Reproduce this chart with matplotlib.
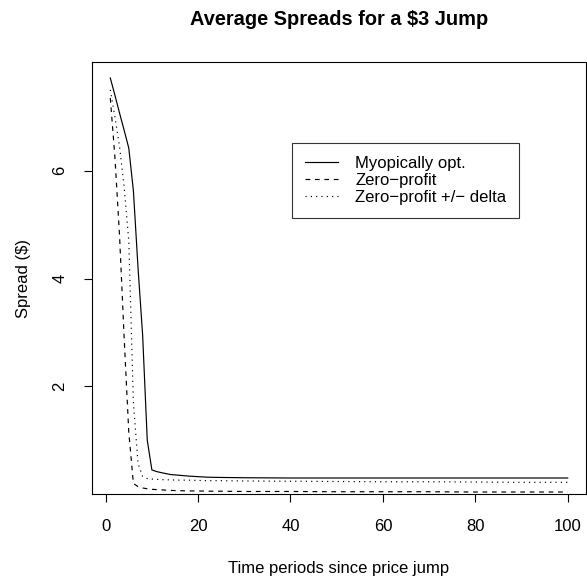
import matplotlib
matplotlib.use("Agg")
import matplotlib.pyplot as plt

plt.rcParams['font.family'] = ['Liberation Sans', 'DejaVu Sans']

# values
periods = [1, 2, 3, 4, 5, 6, 7, 8, 9, 10, 11, 12, 14, 16, 18, 20, 22, 25,
           30, 40, 50, 60, 70, 80, 90, 100]
myopic = [7.72, 7.40, 7.07, 6.75, 6.42, 5.63, 4.20, 2.95, 1.00, 0.45, 0.42,
          0.40, 0.365, 0.35, 0.335, 0.325, 0.315, 0.31, 0.305, 0.30, 0.30,
          0.30, 0.30, 0.30, 0.30, 0.30]
zero_profit = [7.35, 6.25, 4.80, 2.90, 1.15, 0.20, 0.14, 0.115, 0.10, 0.09,
               0.085, 0.08, 0.07, 0.065, 0.06, 0.06, 0.055, 0.055, 0.05,
               0.05, 0.045, 0.045, 0.045, 0.04, 0.04, 0.04]
zero_profit_delta = [7.50, 7.00, 6.45, 5.70, 4.70, 1.70, 0.57, 0.33, 0.29,
                     0.28, 0.275, 0.27, 0.265, 0.26, 0.26, 0.255, 0.25, 0.25,
                     0.245, 0.24, 0.235, 0.23, 0.23, 0.225, 0.22, 0.22]
labels = ['Myopically opt.', 'Zero\u2212profit', 'Zero\u2212profit +/\u2212 delta']

fig = plt.figure(figsize=(5.87, 5.82), dpi=100)
ax = fig.add_axes([92 / 587, 88 / 582, 494 / 587, 432 / 582])

lw = 0.85
ax.plot(periods, myopic, color='black', linewidth=lw, label=labels[0])
ax.plot(periods, zero_profit, color='black', linewidth=lw,
        linestyle=(0, (4, 4)), label=labels[1])
ax.plot(periods, zero_profit_delta, color='black', linewidth=lw,
        linestyle=(0, (1, 3.5)), label=labels[2])

# R style limits: 4% padding around the first series / x range
xr = max(periods) - min(periods)
ax.set_xlim(min(periods) - 0.04 * xr, max(periods) + 0.04 * xr)
yr = max(myopic) - min(myopic)
ax.set_ylim(min(myopic) - 0.04 * yr, max(myopic) + 0.04 * yr)

fs = 12
ax.set_xticks([0, 20, 40, 60, 80, 100])
ax.set_yticks([2, 4, 6])
ax.tick_params(axis='both', direction='out', length=5.8, width=0.8,
               labelsize=fs, color='black')
ax.tick_params(axis='x', pad=12.5)
ax.tick_params(axis='y', pad=12, labelrotation=90)
for lab in ax.get_yticklabels():
    lab.set_verticalalignment('center')
for s in ax.spines.values():
    s.set_linewidth(0.8)
    s.set_color('black')

ax.set_xlabel('Time periods since price jump', fontsize=fs, labelpad=19)
ax.set_ylabel('Spread ($)', fontsize=fs, labelpad=15.5)
ax.set_title('Average Spreads for a $3 Jump', fontsize=14.4,
             fontweight='bold', pad=26.5)

leg = ax.legend(loc='upper left', bbox_to_anchor=(291.7 / 587, 1 - 143 / 582),
                bbox_transform=fig.transFigure, fontsize=fs, frameon=True,
                fancybox=False, borderaxespad=0, borderpad=0.8,
                handlelength=1.95, handletextpad=1.05, labelspacing=0.1)
leg.get_frame().set_edgecolor('black')
leg.get_frame().set_linewidth(0.8)

fig.savefig('out.png', dpi=100)
